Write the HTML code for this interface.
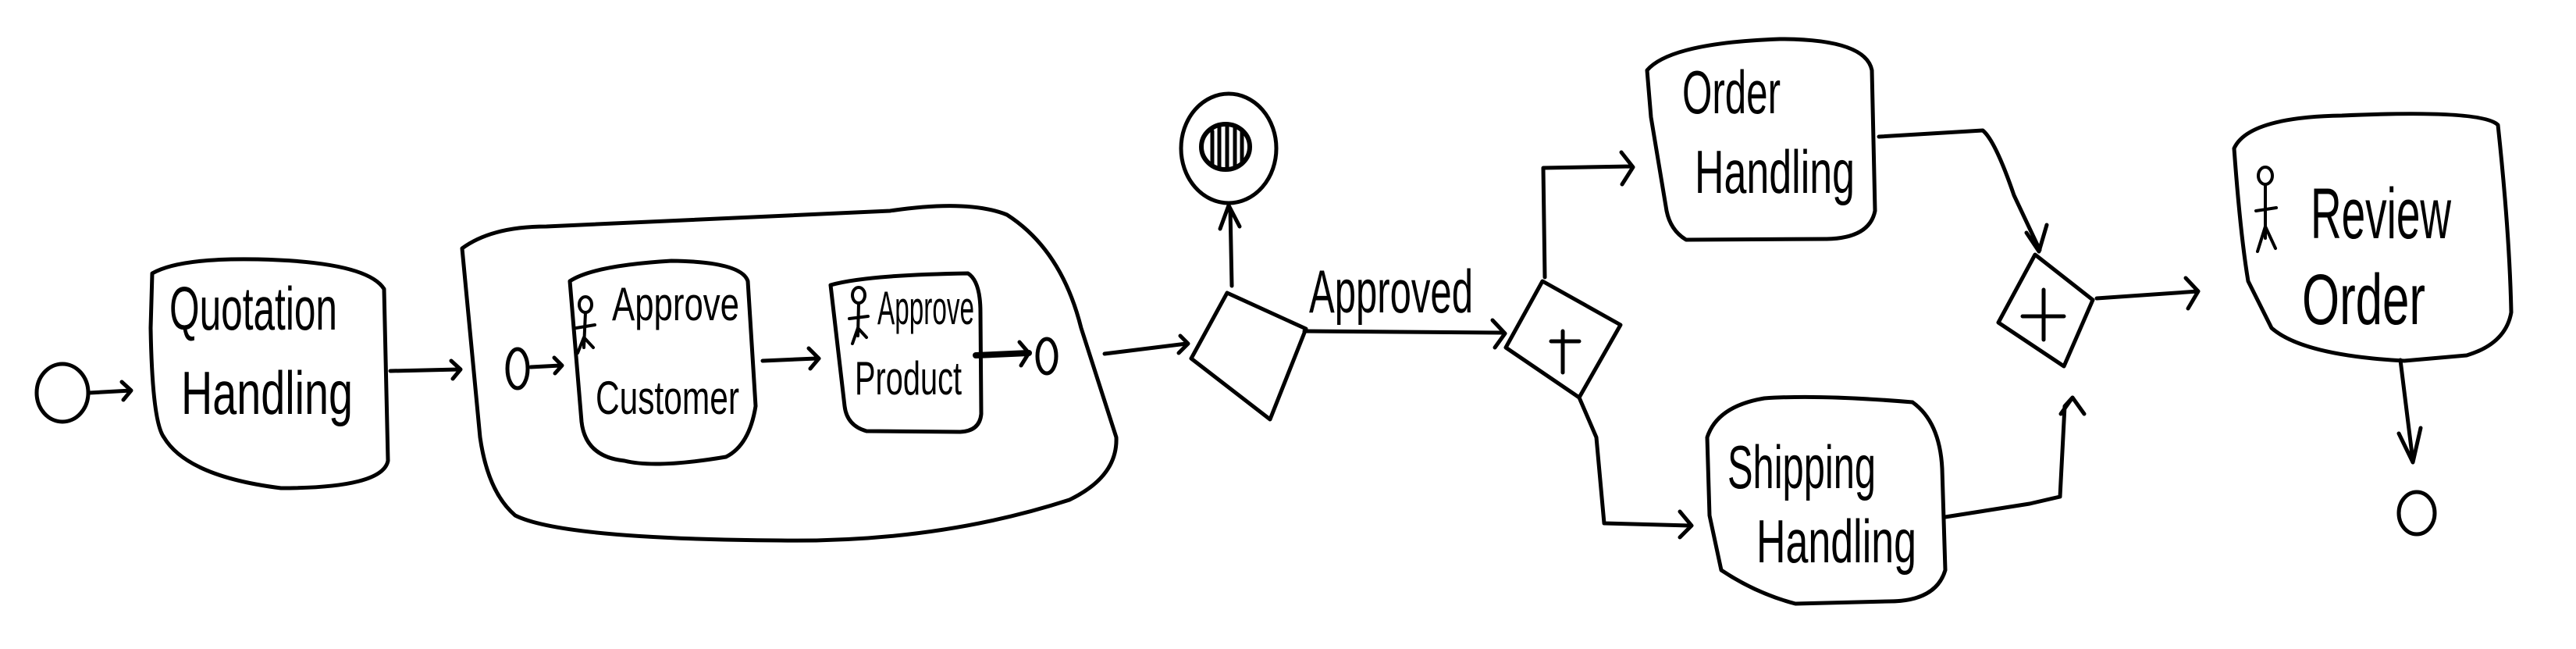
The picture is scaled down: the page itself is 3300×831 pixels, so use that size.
<!DOCTYPE html>
<html><head><meta charset="utf-8"><style>
html,body{margin:0;padding:0;background:#fff;}
svg{display:block}
text{font-family:"Liberation Sans Narrow","Liberation Sans",sans-serif;fill:#000;}
</style></head><body>
<svg width="3300" height="831" viewBox="0 0 3300 831" xmlns="http://www.w3.org/2000/svg">
<g fill="none" stroke="#000" stroke-width="5" stroke-linecap="round" stroke-linejoin="round">
<ellipse cx="80" cy="503" rx="33" ry="37"/>
<path d="M114 503 L168 500 M156 489 L168 500 L158 512"/>
<path d="M195 350 Q230 330 330 332 Q470 335 492 370 L497 590 Q490 625 360 625 Q240 610 210 560 Q195 540 193 420 Z"/>
<path d="M500 475 L588 473 M578 462 L590 473 L580 485"/>
<path d="M592 318 Q630 290 700 290 L1140 270 Q1240 255 1290 275 Q1360 320 1385 420 L1430 560 Q1432 610 1370 640 Q1200 695 1000 692 Q720 690 660 660 Q625 630 615 560 Z"/>
<ellipse cx="663" cy="472" rx="13" ry="25"/>
<path d="M680 470 L718 468 M710 458 L720 468 L711 478"/>
<path d="M730 360 Q760 340 860 334 Q950 335 958 360 L968 520 Q960 570 930 585 Q840 600 800 590 Q750 585 745 540 Z"/>
<path d="M977 462 L1046 459 M1036 446 L1049 459 L1038 472"/>
<path d="M1064 365 Q1110 352 1240 350 Q1256 360 1256 400 L1257 530 Q1255 552 1230 553 L1110 552 Q1085 545 1082 520 Z"/>
<path d="M1250 455 L1318 452" stroke-width="8"/>
<path d="M1306 438 L1318 452 L1308 468"/>
<ellipse cx="1341" cy="456" rx="12" ry="22"/>
<path d="M1415 453 L1520 440 M1512 430 L1522 440 L1510 452"/>
<path d="M1572 375 L1673 421 L1627 537 L1526 459 Z"/>
<path d="M1578 366 L1576 267 M1563 293 L1574 263 L1588 290"/>
<ellipse cx="1574" cy="190" rx="61" ry="70"/>
<ellipse cx="1570" cy="188" rx="31" ry="29" stroke-width="6"/>
<path d="M1553 168 L1553 212 M1562 163 L1562 215 M1572 160 L1572 216 M1582 162 L1582 214 M1591 166 L1591 210" stroke-width="5"/>
<path d="M1671 424 L1926 426 M1912 410 L1928 427 L1915 445"/>
<path d="M1976 360 L2076 416 L2023 509 L1929 445 Z"/>
<path d="M2002 424 L2002 477 M1987 437 L2023 437"/>
<path d="M1979 355 L1977 215 L2090 213 M2077 195 L2092 214 L2078 236"/>
<path d="M2110 90 Q2140 55 2280 50 Q2390 50 2398 90 L2402 270 Q2395 305 2340 306 L2160 307 Q2140 295 2135 270 L2115 150 Z"/>
<path d="M2407 175 L2540 167 Q2556 180 2580 250 L2613 320 M2596 298 L2612 322 L2622 288"/>
<path d="M2607 326 L2681 384 L2644 469 L2560 413 Z"/>
<path d="M2618 371 L2618 435 M2591 405 L2644 405"/>
<path d="M2686 382 L2816 373 M2800 356 L2816 373 L2803 395"/>
<path d="M2187 560 Q2200 520 2260 510 Q2330 505 2450 515 Q2485 540 2488 600 L2492 730 Q2480 770 2420 770 L2300 773 Q2250 760 2205 730 L2190 660 Z"/>
<path d="M2023 509 L2045 560 L2055 670 L2165 673 M2152 655 L2167 673 L2152 688"/>
<path d="M2492 662 L2600 645 L2639 636 L2645 520 L2655 509 M2640 530 L2655 509 L2670 530"/>
<path d="M2862 190 Q2880 150 3000 148 Q3180 140 3200 160 Q3215 300 3217 400 Q3210 440 3160 455 L3080 462 Q2950 455 2910 420 L2880 360 Q2870 300 2862 190 Z"/>
<path d="M3075 461 L3091 590 M3073 555 L3091 592 L3101 548"/>
<ellipse cx="3096" cy="657" rx="23" ry="27"/>
</g>
<g fill="none" stroke="#000" stroke-width="4" stroke-linecap="round">
<ellipse cx="750" cy="390" rx="8" ry="10"/><path d="M750 400 L748 445 M738 420 L762 416 M748 432 L740 452 M748 432 L760 445"/>
<ellipse cx="1100" cy="378" rx="8" ry="10"/><path d="M1100 388 L1099 430 M1088 408 L1112 405 M1099 420 L1092 440 M1099 420 L1110 432"/>
<ellipse cx="2902" cy="225" rx="9" ry="11"/><path d="M2902 236 L2902 305 M2890 270 L2916 266 M2902 290 L2892 322 M2902 290 L2915 318"/>
</g>
<g font-size="78">
<text x="217" y="422" textLength="215" lengthAdjust="spacingAndGlyphs">Quotation</text>
<text x="232" y="530" textLength="220" lengthAdjust="spacingAndGlyphs">Handling</text>
</g>
<g font-size="60">
<text x="784" y="410" textLength="163" lengthAdjust="spacingAndGlyphs">Approve</text>
<text x="763" y="530" textLength="184" lengthAdjust="spacingAndGlyphs">Customer</text>
<text x="1124" y="415" textLength="124" lengthAdjust="spacingAndGlyphs">Approve</text>
<text x="1095" y="505" textLength="137" lengthAdjust="spacingAndGlyphs">Product</text>
</g>
<g font-size="78">
<text x="1677" y="400" textLength="210" lengthAdjust="spacingAndGlyphs">Approved</text>
<text x="2155" y="145" textLength="126" lengthAdjust="spacingAndGlyphs">Order</text>
<text x="2171" y="247" textLength="205" lengthAdjust="spacingAndGlyphs">Handling</text>
<text x="2213" y="625" textLength="190" lengthAdjust="spacingAndGlyphs">Shipping</text>
<text x="2250" y="720" textLength="205" lengthAdjust="spacingAndGlyphs">Handling</text>
</g>
<g font-size="92">
<text x="2960" y="305" textLength="180" lengthAdjust="spacingAndGlyphs">Review</text>
<text x="2949" y="415" textLength="158" lengthAdjust="spacingAndGlyphs">Order</text>
</g>
</svg>
</body></html>
